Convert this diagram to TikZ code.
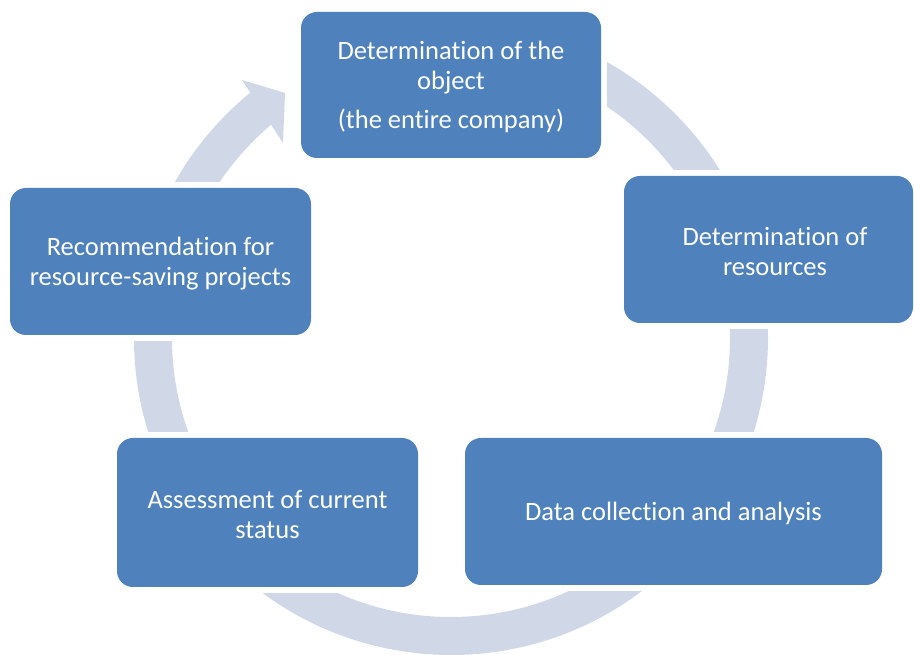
\documentclass[tikz,border=0pt]{standalone}
\usepackage{fontspec}
\setmainfont{Carlito}[Ligatures=NoCommon]
\definecolor{boxblue}{HTML}{4F81BD}
\definecolor{ringcol}{HTML}{D0D8E8}
\pgfdeclarelayer{bg}
\pgfsetlayers{bg,main}
\begin{document}
\begin{tikzpicture}[x=1pt,y=1pt,
  box/.style={fill=boxblue, rounded corners=16pt, inner sep=0pt},
  txt/.style={inner sep=0pt, text=white, align=center, font=\fontsize{26.5}{30}\selectfont},
  ring/.style={fill=ringcol, draw=none},
  cut/.style={fill=white, draw=none}]
\useasboundingbox (0,0) rectangle (914,655);
% boxes
\node[box, minimum width=300pt, minimum height=146pt] (top) at (451,570) {};
\node[txt] (toptext) at ([yshift=-2pt]top.center)
  {Determination of the\\object\\[9pt](the entire company)};
\node[box, minimum width=289pt, minimum height=147pt] (res) at (768.5,405.5) {};
\node[txt] (restext) at (775,403.5) {Determination of\\resources};
\node[box, minimum width=417pt, minimum height=147pt] (data) at (673.5,143.5) {};
\node[txt] (datatext) at ([yshift=-2pt]data.center) {Data collection and analysis};
\node[box, minimum width=301pt, minimum height=149pt] (assess) at (267.5,142.5) {};
\node[txt] (assesstext) at ([yshift=-2pt]assess.center) {Assessment of current\\status};
\node[box, minimum width=301pt, minimum height=147pt] (rec) at (160.5,393.5) {};
\node[txt] (rectext) at ([yshift=-2pt]rec.center) {Recommendation for\\resource-saving projects};
% ring behind
\begin{pgfonlayer}{bg}
  \begin{scope}[shift={(451,317)}]
    \fill[ring] (129:317) arc[start angle=129, end angle=450, radius=317]
      -- (450:279) arc[start angle=450, end angle=129, radius=279] -- cycle;
  \end{scope}
  \fill[ring] (242,575) -- (285,562) -- (283,512) -- cycle;
  \foreach \b in {top,res,data,assess,rec}{
    \fill[cut] ([shift={(-6,-6)}]\b.south west) rectangle ([shift={(6,6)}]\b.north east);
  }
\end{pgfonlayer}
\end{tikzpicture}
\end{document}
